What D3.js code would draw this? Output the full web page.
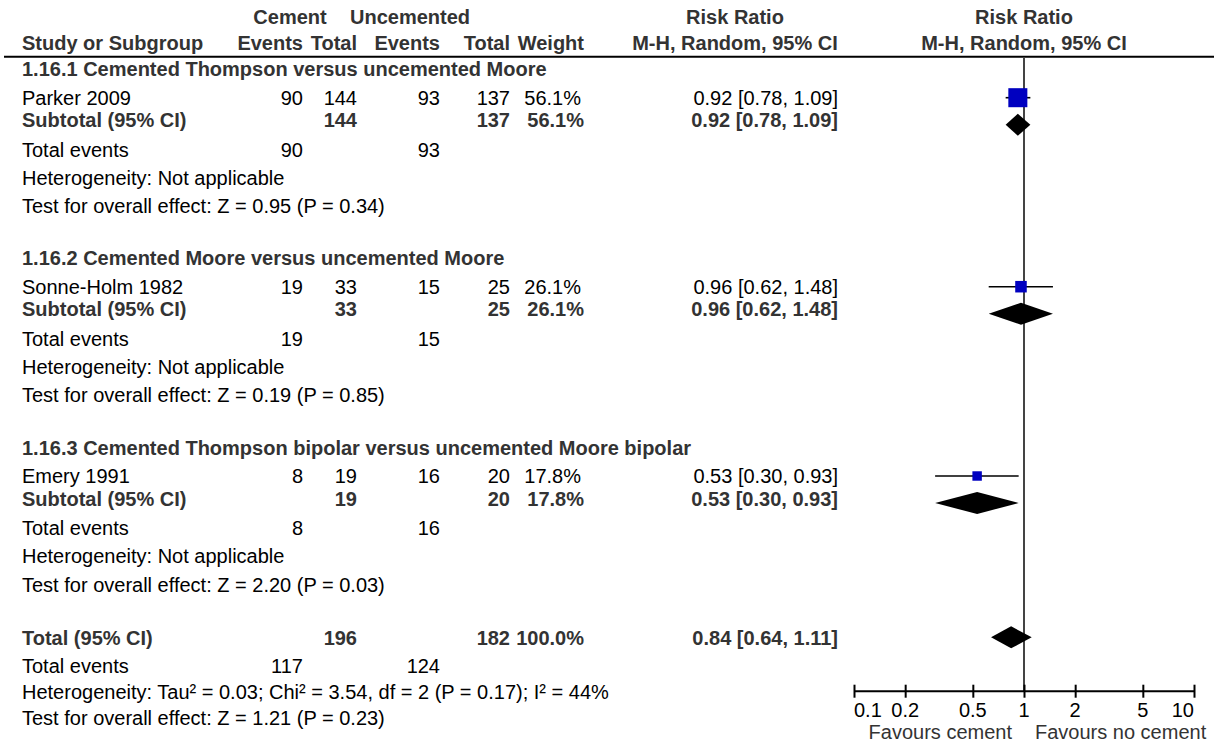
<!DOCTYPE html>
<html><head><meta charset="utf-8">
<script src="https://cdn.jsdelivr.net/npm/d3@7"></script>
<style>
html,body{margin:0;padding:0;background:#fff;}
svg text{font-family:"Liberation Sans",Arial,sans-serif;font-size:20px;}
</style></head>
<body><svg id="chart" width="1214" height="746"></svg>
<script>
// ---------- data ----------
const subgroups = ["1.16.1 Cemented Thompson versus uncemented Moore",
  "1.16.2 Cemented Moore versus uncemented Moore",
  "1.16.3 Cemented Thompson bipolar versus uncemented Moore bipolar"];
const studies = ["Parker 2009", "Sonne-Holm 1982", "Emery 1991"];
const cementEvents = [90, 19, 8];
const cementTotal = [144, 33, 19];
const uncEvents = [93, 15, 16];
const uncTotal = [137, 25, 20];
const weights = [56.1, 26.1, 17.8];
const rr = [0.92, 0.96, 0.53];
const rrLow = [0.78, 0.62, 0.30];
const rrHigh = [1.09, 1.48, 0.93];
const subTests = ["Z = 0.95 (P = 0.34)", "Z = 0.19 (P = 0.85)", "Z = 2.20 (P = 0.03)"];
const totalEventsCement = 117, totalEventsUnc = 124;
const totalN = [196, 182];
const totalRR = [0.84, 0.64, 1.11];
const totalHet = "Heterogeneity: Tau² = 0.03; Chi² = 3.54, df = 2 (P = 0.17); I² = 44%";
const totalTest = "Test for overall effect: Z = 1.21 (P = 0.23)";
const tickValues = [0.1, 0.2, 0.5, 1, 2, 5, 10];
const tickLabels = ["0.1", "0.2", "0.5", "1", "2", "5", "10"];
const favours = ["Favours cement", "Favours no cement"];

// ---------- layout ----------
const svg = d3.select("#chart");
const bold = "#333";
const col = {left: 22, ceE: 303, ceT: 357, ucE: 440, ucT: 510, w: 584, ci: 838};
const x = d3.scaleLog().domain([0.1, 10]).range([854, 1194]);
const sq = d3.scaleLinear().domain([0, 100]).range([5, 30]);
const studyY = [97.7, 286.7, 476];
const totalY = 637.3;
const fmt2 = d3.format(".2f");
const ciText = (m, l, h) => `${fmt2(m)} [${fmt2(l)}, ${fmt2(h)}]`;

function txt(xp, yp, s, opt = {}) {
  return svg.append("text").attr("x", xp).attr("y", yp)
    .attr("dy", "0.36em")
    .attr("text-anchor", opt.anchor || "start")
    .attr("font-weight", opt.bold ? "bold" : "normal")
    .attr("fill", opt.bold ? bold : (opt.fill || "#000"))
    .text(s);
}

// header
txt(290, 17, "Cement", {bold: true, anchor: "middle"});
txt(410, 17, "Uncemented", {bold: true, anchor: "middle"});
txt(735, 17, "Risk Ratio", {bold: true, anchor: "middle"});
txt(1024, 17, "Risk Ratio", {bold: true, anchor: "middle"});
txt(col.left, 43, "Study or Subgroup", {bold: true});
txt(col.ceE, 43, "Events", {bold: true, anchor: "end"});
txt(col.ceT, 43, "Total", {bold: true, anchor: "end"});
txt(col.ucE, 43, "Events", {bold: true, anchor: "end"});
txt(col.ucT, 43, "Total", {bold: true, anchor: "end"});
txt(col.w, 43, "Weight", {bold: true, anchor: "end"});
txt(735, 43, "M-H, Random, 95% CI", {bold: true, anchor: "middle"});
txt(1024, 43, "M-H, Random, 95% CI", {bold: true, anchor: "middle"});
svg.append("line").attr("x1", 4).attr("x2", 1214).attr("y1", 56.7).attr("y2", 56.7)
  .attr("stroke", "#000").attr("stroke-width", 2);

// null line
svg.append("line").attr("x1", x(1)).attr("x2", x(1)).attr("y1", 57).attr("y2", 691)
  .attr("stroke", "#444").attr("stroke-width", 2);

// subgroups
studies.forEach((s, i) => {
  const y = studyY[i], yd = y + 27, ys = y + 22.5;
  txt(col.left, y - 28.6, subgroups[i], {bold: true});
  txt(col.left, y, s);
  txt(col.ceE, y, cementEvents[i], {anchor: "end"});
  txt(col.ceT, y, cementTotal[i], {anchor: "end"});
  txt(col.ucE, y, uncEvents[i], {anchor: "end"});
  txt(col.ucT, y, uncTotal[i], {anchor: "end"});
  txt(col.w - 3, y, weights[i].toFixed(1) + "%", {anchor: "end"});
  txt(col.ci, y, ciText(rr[i], rrLow[i], rrHigh[i]), {anchor: "end"});

  txt(col.left, ys, "Subtotal (95% CI)", {bold: true});
  txt(col.ceT, ys, cementTotal[i], {bold: true, anchor: "end"});
  txt(col.ucT, ys, uncTotal[i], {bold: true, anchor: "end"});
  txt(col.w, ys, weights[i].toFixed(1) + "%", {bold: true, anchor: "end"});
  txt(col.ci, ys, ciText(rr[i], rrLow[i], rrHigh[i]), {bold: true, anchor: "end"});

  txt(col.left, y + 52, "Total events");
  txt(col.ceE, y + 52, cementEvents[i], {anchor: "end"});
  txt(col.ucE, y + 52, uncEvents[i], {anchor: "end"});
  txt(col.left, y + 80, "Heterogeneity: Not applicable");
  txt(col.left, y + 108.5, "Test for overall effect: " + subTests[i]);

  // CI line + square
  svg.append("line").attr("x1", x(rrLow[i])).attr("x2", x(rrHigh[i]))
    .attr("y1", y).attr("y2", y).attr("stroke", "#000").attr("stroke-width", 1.6);
  const s2 = sq(weights[i]);
  svg.append("rect").attr("x", x(rr[i]) - s2 / 2).attr("y", y - s2 / 2)
    .attr("width", s2).attr("height", s2).attr("fill", "#0000C0");
  // diamond
  svg.append("path").attr("d", `M${x(rrLow[i])},${yd} L${x(rr[i])},${yd - 11} L${x(rrHigh[i])},${yd} L${x(rr[i])},${yd + 11} Z`)
    .attr("fill", "#000");
});

// total
const yt = totalY;
txt(col.left, yt, "Total (95% CI)", {bold: true});
txt(col.ceT, yt, totalN[0], {bold: true, anchor: "end"});
txt(col.ucT, yt, totalN[1], {bold: true, anchor: "end"});
txt(col.w, yt, "100.0%", {bold: true, anchor: "end"});
txt(col.ci, yt, ciText(...totalRR), {bold: true, anchor: "end"});
txt(col.left, yt + 28, "Total events");
txt(col.ceE, yt + 28, totalEventsCement, {anchor: "end"});
txt(col.ucE, yt + 28, totalEventsUnc, {anchor: "end"});
txt(col.left, yt + 54, totalHet);
txt(col.left, yt + 80, totalTest);
svg.append("path").attr("d", `M${x(totalRR[1])},${yt} L${x(totalRR[0])},${yt - 11} L${x(totalRR[2])},${yt} L${x(totalRR[0])},${yt + 11} Z`)
  .attr("fill", "#000");

// axis
const axisY = 690.7;
const ax = svg.append("g").attr("transform", `translate(0,${axisY})`)
  .call(d3.axisBottom(x).tickValues(tickValues).tickSize(0).tickFormat(""));
ax.select(".domain").attr("stroke", "#000").attr("stroke-width", 2);
ax.selectAll(".tick").append("line").attr("y1", -6).attr("y2", 7).attr("stroke", "#000").attr("stroke-width", 2);
tickValues.forEach((v, i) => {
  const anchor = i === 0 ? "start" : (i === tickValues.length - 1 ? "end" : "middle");
  txt(x(v), 710, tickLabels[i], {anchor});
});
txt(x(1) - 12, 732, favours[0], {anchor: "end", fill: "#333"});
txt(x(1) + 11, 732, favours[1], {anchor: "start", fill: "#333"});
</script></body></html>
